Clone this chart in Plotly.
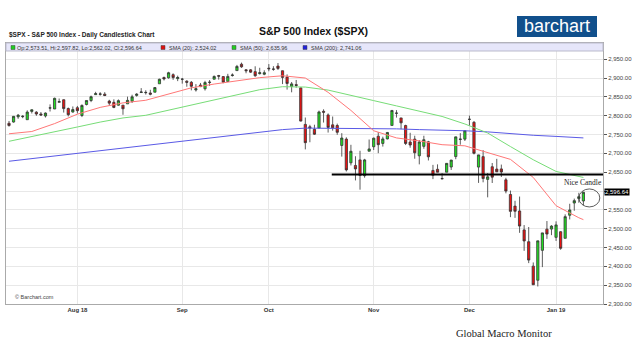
import plotly.graph_objects as go

# ---------------- data ----------------
MONTH_DAYS = {
    "2018-07": [11, 12, 13, 16, 17, 18, 19, 20, 23, 24, 25, 26, 27, 30, 31],
    "2018-08": [1, 2, 3, 6, 7, 8, 9, 10, 13, 14, 15, 16, 17, 20, 21, 22, 23, 24, 27, 28, 29, 30, 31],
    "2018-09": [4, 5, 6, 7, 10, 11, 12, 13, 14, 17, 18, 19, 20, 21, 24, 25, 26, 27, 28],
    "2018-10": [1, 2, 3, 4, 5, 8, 9, 10, 11, 12, 15, 16, 17, 18, 19, 22, 23, 24, 25, 26, 29, 30, 31],
    "2018-11": [1, 2, 5, 6, 7, 8, 9, 12, 13, 14, 15, 16, 19, 20, 21, 23, 26, 27, 28, 29, 30],
    "2018-12": [3, 4, 6, 7, 10, 11, 12, 13, 14, 17, 18, 19, 20, 21, 24, 26, 27, 28, 31],
    "2019-01": [2, 3, 4, 7, 8, 9, 10],
}
DATES = [f"{m}-{d:02d}" for m, days in MONTH_DAYS.items() for d in days]

OPEN = [2779.82, 2783.14, 2796.93, 2797.36, 2789.34, 2811.35, 2809.37, 2804.55, 2799.17, 2820.68,
        2817.73, 2835.49, 2842.35, 2819.00, 2809.73, 2821.17, 2800.48, 2829.62, 2840.29, 2855.92,
        2856.79, 2857.19, 2838.90, 2835.46, 2827.88, 2827.95, 2831.44, 2838.32, 2853.93, 2861.51,
        2860.99, 2860.29, 2862.35, 2884.69, 2901.45, 2900.62, 2908.94, 2898.37, 2896.96, 2891.59,
        2888.64, 2868.26, 2881.39, 2871.57, 2888.29, 2896.85, 2906.38, 2903.83, 2890.74, 2906.60,
        2919.73, 2936.76, 2921.83, 2921.75, 2916.98, 2911.65, 2910.03, 2926.29, 2923.80, 2931.69,
        2919.35, 2902.54, 2877.53, 2882.51, 2873.90, 2776.87, 2770.54, 2763.83, 2767.05, 2811.67,
        2802.00, 2775.66, 2773.94, 2721.03, 2737.87, 2674.88, 2667.86, 2682.65, 2640.68, 2705.60,
        2717.58, 2745.45, 2726.37, 2738.40, 2774.13, 2806.38, 2794.10, 2773.93, 2730.05, 2737.90,
        2693.52, 2718.54, 2730.74, 2654.60, 2657.74, 2633.36, 2649.97, 2663.75, 2691.45, 2736.97,
        2737.76, 2790.50, 2782.43, 2663.51, 2691.26, 2630.86, 2664.44, 2658.23, 2658.70, 2629.68,
        2590.75, 2559.90, 2547.05, 2496.77, 2465.38, 2400.56, 2363.12, 2442.50, 2498.77, 2498.94,
        2476.96, 2491.92, 2474.33, 2535.61, 2568.11, 2580.00, 2573.51]
HIGH = [2785.91, 2799.22, 2804.53, 2801.19, 2814.19, 2816.76, 2812.05, 2809.70, 2808.61, 2829.99,
        2848.03, 2845.57, 2843.17, 2821.74, 2824.46, 2825.83, 2829.91, 2840.38, 2853.29, 2863.43,
        2862.44, 2862.48, 2842.20, 2843.40, 2843.11, 2827.95, 2850.49, 2855.63, 2859.76, 2873.23,
        2867.54, 2868.78, 2876.16, 2898.25, 2903.77, 2916.50, 2912.46, 2906.32, 2900.18, 2894.21,
        2892.05, 2883.81, 2886.93, 2892.52, 2894.65, 2906.76, 2908.30, 2904.65, 2911.17, 2912.36,
        2934.80, 2940.91, 2923.79, 2923.95, 2931.15, 2927.22, 2920.53, 2937.06, 2931.42, 2939.86,
        2919.78, 2909.64, 2889.45, 2894.83, 2874.02, 2795.14, 2775.77, 2775.99, 2813.46, 2816.94,
        2806.04, 2797.77, 2778.94, 2753.59, 2742.59, 2722.70, 2692.38, 2706.85, 2685.43, 2736.69,
        2741.67, 2756.55, 2744.27, 2756.82, 2815.15, 2814.75, 2794.10, 2775.99, 2754.60, 2746.80,
        2735.38, 2746.75, 2733.16, 2669.44, 2670.73, 2647.55, 2674.35, 2682.53, 2744.00, 2753.75,
        2760.88, 2800.18, 2785.93, 2696.15, 2708.54, 2647.51, 2674.35, 2685.44, 2670.19, 2635.07,
        2601.13, 2573.99, 2585.29, 2509.63, 2504.41, 2410.34, 2467.76, 2489.10, 2520.27, 2509.24,
        2519.49, 2493.14, 2538.07, 2566.16, 2579.82, 2595.32, 2597.82]
LOW = [2770.77, 2781.53, 2791.69, 2793.39, 2789.24, 2805.89, 2799.77, 2800.01, 2795.14, 2811.12,
       2817.73, 2835.26, 2808.34, 2798.11, 2808.06, 2805.85, 2796.34, 2827.37, 2835.98, 2855.92,
       2853.09, 2851.98, 2825.81, 2819.88, 2826.58, 2802.49, 2831.44, 2833.73, 2850.62, 2861.32,
       2856.05, 2854.03, 2862.35, 2884.69, 2893.50, 2898.40, 2895.22, 2891.73, 2885.13, 2876.92,
       2867.29, 2864.12, 2875.94, 2866.78, 2879.20, 2896.39, 2895.77, 2886.16, 2890.43, 2903.82,
       2919.73, 2927.11, 2912.63, 2913.70, 2903.28, 2909.27, 2907.50, 2917.91, 2919.37, 2921.36,
       2883.92, 2869.29, 2862.08, 2874.27, 2784.86, 2710.51, 2729.44, 2749.03, 2766.91, 2781.81,
       2755.18, 2760.27, 2749.22, 2691.43, 2651.89, 2667.84, 2628.16, 2603.54, 2635.34, 2705.60,
       2708.85, 2700.44, 2717.94, 2737.08, 2774.13, 2794.99, 2764.24, 2722.00, 2714.98, 2685.75,
       2670.75, 2712.16, 2681.09, 2631.52, 2649.82, 2631.09, 2649.97, 2655.89, 2684.38, 2722.94,
       2732.76, 2773.38, 2697.18, 2621.53, 2623.14, 2583.23, 2621.30, 2650.26, 2637.27, 2593.84,
       2530.54, 2528.71, 2488.96, 2441.18, 2408.55, 2351.10, 2346.58, 2397.94, 2472.89, 2482.82,
       2467.47, 2443.96, 2474.33, 2524.56, 2547.56, 2568.89, 2562.02]
CLOSE = [2774.02, 2798.29, 2801.31, 2798.43, 2809.55, 2815.62, 2804.49, 2801.83, 2806.98, 2820.40,
         2846.07, 2837.44, 2818.82, 2802.60, 2816.29, 2813.36, 2827.22, 2840.35, 2850.40, 2858.45,
         2857.70, 2853.58, 2833.28, 2821.93, 2839.96, 2818.37, 2840.69, 2850.13, 2857.05, 2862.96,
         2861.82, 2856.98, 2874.69, 2896.74, 2897.52, 2914.04, 2901.13, 2901.52, 2896.72, 2888.60,
         2878.05, 2871.68, 2877.13, 2887.89, 2888.92, 2904.18, 2904.98, 2888.80, 2904.31, 2907.95,
         2930.75, 2929.67, 2919.37, 2915.56, 2905.97, 2914.00, 2913.98, 2924.59, 2923.43, 2925.51,
         2901.61, 2885.57, 2884.43, 2880.34, 2785.68, 2728.37, 2767.13, 2750.79, 2809.92, 2809.21,
         2768.78, 2767.78, 2755.88, 2740.69, 2656.10, 2705.57, 2658.69, 2641.25, 2682.63, 2711.74,
         2740.37, 2723.06, 2738.31, 2755.45, 2813.89, 2806.83, 2781.01, 2726.22, 2722.18, 2701.58,
         2730.20, 2736.27, 2690.73, 2641.89, 2649.93, 2632.56, 2673.45, 2682.17, 2743.79, 2737.80,
         2760.17, 2790.37, 2700.06, 2695.95, 2633.08, 2637.72, 2636.78, 2651.07, 2650.54, 2599.95,
         2545.94, 2546.16, 2506.96, 2467.42, 2416.62, 2351.10, 2467.70, 2488.83, 2485.74, 2506.85,
         2510.03, 2447.89, 2531.94, 2549.69, 2574.41, 2584.96, 2596.64]

SMA_DATES = ["2018-07-11", "2018-07-18", "2018-07-25", "2018-08-01", "2018-08-08", "2018-08-15",
             "2018-08-22", "2018-08-29", "2018-09-06", "2018-09-13", "2018-09-20", "2018-09-27",
             "2018-10-04", "2018-10-11", "2018-10-18", "2018-10-25", "2018-11-01", "2018-11-08",
             "2018-11-15", "2018-11-23", "2018-11-30", "2018-12-10", "2018-12-17", "2018-12-24",
             "2019-01-02", "2019-01-09", "2019-01-10"]
SMA20 = [2752, 2758, 2779, 2804, 2822, 2834, 2841, 2857, 2874, 2884, 2892, 2901, 2906, 2900,
         2862, 2814, 2760, 2741, 2733, 2723, 2720, 2701, 2684, 2636, 2561, 2529, 2524]
SMA50 = [2732, 2744, 2757, 2770, 2783, 2794, 2801, 2815, 2829, 2843, 2857, 2869, 2877, 2876,
         2868, 2853, 2840, 2826, 2812, 2798, 2778, 2754, 2718, 2683, 2652, 2639, 2636]
SMA200 = [2679, 2686, 2693, 2700, 2707, 2715, 2722, 2729, 2736, 2743, 2750, 2757, 2763, 2767,
          2767, 2767, 2766, 2765, 2763, 2762, 2760, 2757, 2752, 2748, 2745, 2742, 2741]

TICK_DATES = ["2018-08-01", "2018-09-04", "2018-10-01", "2018-11-01", "2018-12-03", "2019-01-02"]
TICK_TEXT = ["Aug 18", "Sep", "Oct", "Nov", "Dec", "Jan 19"]
Y_TICKS = list(range(2300, 2951, 50))
# the 2,600 label is covered by the last-price tag in the reference
Y_TICK_TEXT = ["" if v == 2600 else f"{v:,.2f}" for v in Y_TICKS]

SUPPORT = 2644
LAST = CLOSE[-1]
LEGEND_TEXT = "Op:2,573.51, Hi:2,597.82, Lo:2,562.02, Cl:2,596.64"
SMA_LABELS = ["SMA (20): 2,524.02", "SMA (50): 2,635.96", "SMA (200): 2,741.06"]

# ---------------- figure ----------------
W, H = 640, 353
ML, MR, MT, MB = 6, 37, 43, 49
PW, PH = W - ML - MR, H - MT - MB


def px(xp):
    return (xp - ML) / PW


def py(yp):
    return 1 - (yp - MT) / PH


fig = go.Figure()

fig.add_trace(go.Scatter(x=SMA_DATES, y=SMA200, mode="lines",
                         line=dict(color="#5a5ae6", width=1), hoverinfo="skip"))
fig.add_trace(go.Scatter(x=SMA_DATES, y=SMA50, mode="lines",
                         line=dict(color="#77dd77", width=1), hoverinfo="skip"))
fig.add_trace(go.Scatter(x=SMA_DATES, y=SMA20, mode="lines",
                         line=dict(color="#ff7777", width=1), hoverinfo="skip"))

fig.add_trace(go.Candlestick(
    x=DATES, open=OPEN, high=HIGH, low=LOW, close=CLOSE,
    increasing=dict(fillcolor="#22e022", line=dict(color="#333333", width=0.8)),
    decreasing=dict(fillcolor="#ee1111", line=dict(color="#333333", width=0.8)),
    whiskerwidth=0,
))

x_left = -0.66
x_right = 130.3

shapes = [
    dict(type="rect", xref="paper", yref="paper", x0=0, x1=1, y0=py(51), y1=1,
         fillcolor="#e6e6fa", line=dict(color="#bbbbcc", width=1), layer="above"),
    dict(type="line", xref="x", yref="y", x0=70.8, x1=x_right, y0=SUPPORT, y1=SUPPORT,
         line=dict(color="black", width=2)),
    dict(type="circle", xref="x", yref="y", x0=125.0, x1=129.6, y0=2557.7, y1=2605.5,
         line=dict(color="#333333", width=0.8)),
    dict(type="rect", xref="paper", yref="paper", x0=px(517), x1=px(597), y0=py(37), y1=py(16),
         fillcolor="#11508c", line=dict(color="#11508c", width=0)),
]

legend_sq = [(11, "#22cc22"), (161, "#dd1111"), (232, "#22cc22"), (303, "#2222dd")]
for xs, col in legend_sq:
    shapes.append(dict(type="rect", xref="paper", yref="paper", x0=px(xs), x1=px(xs + 4),
                       y0=py(49.5), y1=py(45.5), fillcolor=col,
                       line=dict(color="#444444", width=0.5), layer="above"))

annotations = [
    dict(text="S&P 500 Index ($SPX)", xref="paper", yref="paper", x=px(257), y=py(31),
         xanchor="left", yanchor="middle", showarrow=False,
         font=dict(family="Liberation Sans", size=10.5, color="#111111", weight="bold")),
    dict(text="$SPX - S&P 500 Index - Daily Candlestick Chart", xref="paper", yref="paper",
         x=px(7), y=py(35.5), xanchor="left", yanchor="middle", showarrow=False,
         font=dict(family="Liberation Sans", size=6.5, color="#222222", weight="bold")),
    dict(text="barchart", xref="paper", yref="paper", x=px(557), y=py(26), xanchor="center",
         yanchor="middle", showarrow=False,
         font=dict(family="Liberation Sans", size=18, color="white")),
    dict(text=LEGEND_TEXT, xref="paper", yref="paper", x=px(15), y=py(47.5), xanchor="left",
         yanchor="middle", showarrow=False,
         font=dict(family="Liberation Sans", size=5.5, color="#333333")),
    dict(text="Nice Candle", xref="x", yref="y", x=125.9, y=2621.5, xanchor="center",
         yanchor="middle", showarrow=False,
         font=dict(family="Liberation Serif", size=7.5, color="#222222")),
    dict(text=f"{LAST:,.2f}", xref="paper", yref="y", x=1, y=LAST, xanchor="left",
         yanchor="middle", showarrow=False, xshift=1, bgcolor="black", borderpad=0,
         font=dict(family="Liberation Sans", size=6, color="white")),
    dict(text="© Barchart.com", xref="paper", yref="paper", x=px(13), y=py(297),
         xanchor="left", yanchor="middle", showarrow=False,
         font=dict(family="Liberation Sans", size=5.5, color="#444444")),
    dict(text="Global Macro Monitor", xref="paper", yref="paper", x=px(504), y=py(333),
         xanchor="center", yanchor="middle", showarrow=False,
         font=dict(family="Liberation Serif", size=10.5, color="#222222")),
]
for xs, t in zip([167, 238, 309], SMA_LABELS):
    annotations.append(dict(text=t, xref="paper", yref="paper", x=px(xs), y=py(47.5),
                            xanchor="left", yanchor="middle", showarrow=False,
                            font=dict(family="Liberation Sans", size=5.5, color="#333333")))

fig.update_layout(
    width=W, height=H,
    margin=dict(l=ML, r=MR, t=MT, b=MB),
    paper_bgcolor="white", plot_bgcolor="white",
    showlegend=False,
    shapes=shapes, annotations=annotations,
    xaxis=dict(type="category", categoryorder="array", categoryarray=DATES,
               range=[x_left, x_right], rangeslider=dict(visible=False),
               tickvals=TICK_DATES, ticktext=TICK_TEXT, showgrid=True, gridcolor="#e8e8e8",
               showline=True, linecolor="#aaaaaa", mirror=True, ticks="",
               tickfont=dict(family="Liberation Sans", size=6, color="#333333", weight="bold")),
    yaxis=dict(range=[2300, 2993], side="right", tickvals=Y_TICKS, ticktext=Y_TICK_TEXT,
               showgrid=True, gridcolor="#e8e8e8", showline=True, linecolor="#aaaaaa",
               mirror=True, ticks="outside", ticklen=3, tickcolor="#555555", zeroline=False,
               tickfont=dict(family="Liberation Sans", size=6, color="#444444")),
)

fig.write_html("out.html")
